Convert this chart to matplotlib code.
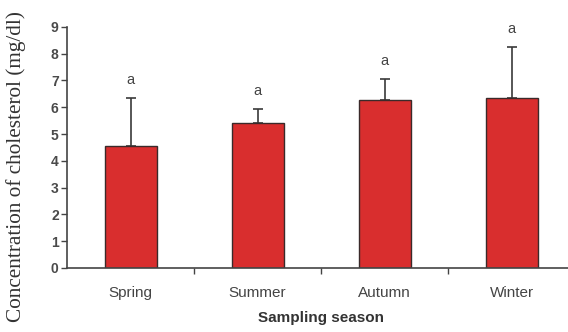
import matplotlib
matplotlib.use("Agg")
import matplotlib.pyplot as plt
import numpy as np

seasons = ["Spring", "Summer", "Autumn", "Winter"]
means = [4.56, 5.42, 6.27, 6.35]
errors = [1.77, 0.51, 0.77, 1.89]
letters = ["a", "a", "a", "a"]
y_ticks = [0, 1, 2, 3, 4, 5, 6, 7, 8, 9]

fig = plt.figure(figsize=(5.68, 3.32), dpi=100)
ax = fig.add_axes([0.118, 0.193, 0.895, 0.726])

x = np.arange(len(seasons))
bar_color = "#d92e2e"
edge = "#3a2a2a"
ax.bar(x, means, width=0.41, color=bar_color, edgecolor=edge, linewidth=1.0, zorder=2)
ax.errorbar(x, means, yerr=[np.zeros(len(errors)), errors], fmt="none",
            ecolor="#3a3a3a", elinewidth=1.2, capsize=3.5, capthick=1.2, zorder=1)

for xi, m, e, lab in zip(x, means, errors, letters):
    ax.text(xi, m + e + 0.42, lab, ha="center", va="bottom",
            fontsize=10.5, color="#444444", family="Liberation Sans")

ax.set_xlim(-0.5, 3.45)
ax.set_ylim(0, 9)
ax.set_yticks(y_ticks)
ax.set_yticklabels([str(t) for t in y_ticks], fontsize=10, fontweight="bold",
                   color="#4a4a4a", family="Liberation Sans")
ax.set_xticks(x)
ax.set_xticklabels(seasons, fontsize=11, color="#444444", family="Liberation Sans")
ax.tick_params(axis="x", length=0, pad=13)
ax.tick_params(axis="y", length=4, width=1.0, color="#444444", pad=2)
ax.set_xticks(np.arange(0.5, 3.6, 1.0), minor=True)
ax.tick_params(axis="x", which="minor", length=4, width=1.0, color="#444444")

for s in ["top", "right"]:
    ax.spines[s].set_visible(False)
for s in ["left", "bottom"]:
    ax.spines[s].set_color("#444444")
    ax.spines[s].set_linewidth(1.2)

ax.set_xlabel("Sampling season", fontsize=11, fontweight="bold",
              color="#333333", family="Liberation Sans", labelpad=8)
ax.set_ylabel("Concentration of cholesterol (mg/dl)", fontsize=15.3,
              color="#333333", family="Liberation Serif", labelpad=4)
ax.yaxis.set_label_coords(-0.08, 0.42)

fig.savefig("out.png", dpi=100)
